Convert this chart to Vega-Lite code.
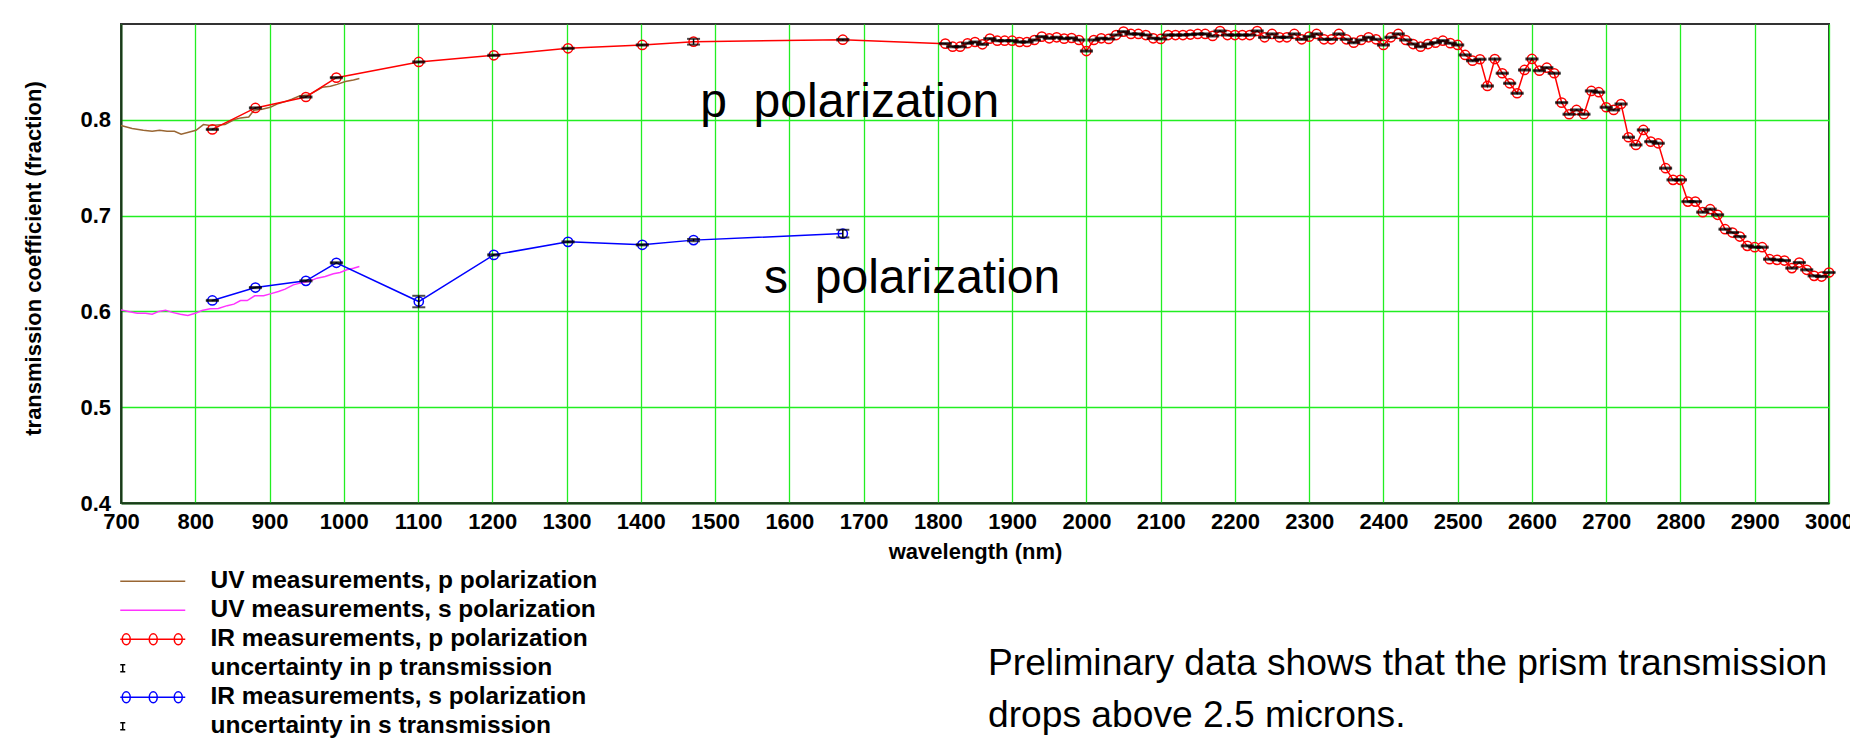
{
 "$schema": "https://vega.github.io/schema/vega-lite/v6.json",
 "width": 1708,
 "height": 479,
 "autosize": {"type": "none"},
 "padding": {"left": 121, "top": 24, "right": 21, "bottom": 237},
 "background": "white",
 "title": {
  "text": ["Preliminary data shows that the prism transmission", "drops above 2.5 microns."],
  "orient": "bottom", "anchor": "start", "frame": "group", "align": "left", "baseline": "top",
  "font": "Liberation Sans", "fontSize": 37.2, "fontWeight": "normal", "color": "black",
  "lineHeight": 52, "dx": 867, "offset": -92
 },
 "config": {
  "view": {"stroke": "#333333", "strokeWidth": 2},
  "font": "Liberation Sans",
  "axis": {
   "labelFont": "Liberation Sans", "labelFontWeight": "bold", "labelFontSize": 22, "labelColor": "black",
   "titleFont": "Liberation Sans", "titleFontWeight": "bold", "titleFontSize": 22, "titleColor": "black",
   "gridColor": "#22ee22", "gridOpacity": 1, "gridWidth": 1.3,
   "domainColor": "#1a3a1a", "domainWidth": 2, "ticks": false
  }
 },
 "datasets": {
  "uv_p": [
   {"wavelength":700,"value":0.794},{"wavelength":715,"value":0.791},{"wavelength":730,"value":0.789},{"wavelength":742,"value":0.788},{"wavelength":752,"value":0.789},{"wavelength":762,"value":0.788},{"wavelength":772,"value":0.788},{"wavelength":781,"value":0.785},{"wavelength":791,"value":0.787},{"wavelength":801,"value":0.789},{"wavelength":811,"value":0.795},{"wavelength":820,"value":0.794},{"wavelength":840,"value":0.795},{"wavelength":852,"value":0.800},{"wavelength":861,"value":0.802},{"wavelength":872,"value":0.803},{"wavelength":879,"value":0.810},{"wavelength":890,"value":0.811},{"wavelength":901,"value":0.813},{"wavelength":910,"value":0.8165},{"wavelength":921,"value":0.819},{"wavelength":930,"value":0.8215},{"wavelength":941,"value":0.825},{"wavelength":953,"value":0.826},{"wavelength":962,"value":0.830},{"wavelength":971,"value":0.834},{"wavelength":982,"value":0.835},{"wavelength":991,"value":0.837},{"wavelength":1002,"value":0.840},{"wavelength":1013,"value":0.8416},{"wavelength":1021,"value":0.843}
  ],
  "uv_s": [
   {"wavelength":700,"value":0.6016},{"wavelength":710,"value":0.600},{"wavelength":722,"value":0.598},{"wavelength":733,"value":0.598},{"wavelength":742,"value":0.597},{"wavelength":751,"value":0.600},{"wavelength":760,"value":0.6013},{"wavelength":769,"value":0.599},{"wavelength":780,"value":0.597},{"wavelength":790,"value":0.5957},{"wavelength":800,"value":0.598},{"wavelength":809,"value":0.601},{"wavelength":820,"value":0.6027},{"wavelength":831,"value":0.603},{"wavelength":843,"value":0.606},{"wavelength":852,"value":0.6076},{"wavelength":861,"value":0.6113},{"wavelength":870,"value":0.6113},{"wavelength":880,"value":0.6163},{"wavelength":892,"value":0.6163},{"wavelength":901,"value":0.6183},{"wavelength":912,"value":0.6208},{"wavelength":921,"value":0.6232},{"wavelength":932,"value":0.6277},{"wavelength":941,"value":0.6295},{"wavelength":953,"value":0.6312},{"wavelength":964,"value":0.6347},{"wavelength":975,"value":0.6364},{"wavelength":986,"value":0.6392},{"wavelength":995,"value":0.6406},{"wavelength":1004,"value":0.6434},{"wavelength":1013,"value":0.6451},{"wavelength":1021,"value":0.6468}
  ],
  "ir_p": [
   {"wavelength":823,"value":0.790,"uncertainty":0.0006},{"wavelength":881,"value":0.8124,"uncertainty":0.0006},{"wavelength":949,"value":0.8238,"uncertainty":0.0006},{"wavelength":990,"value":0.844,"uncertainty":0.0006},{"wavelength":1101,"value":0.8604,"uncertainty":0.0006},{"wavelength":1202,"value":0.8673,"uncertainty":0.0006},{"wavelength":1302,"value":0.8746,"uncertainty":0.0006},{"wavelength":1402,"value":0.8781,"uncertainty":0.0006},{"wavelength":1471,"value":0.8815,"uncertainty":0.003},{"wavelength":1672,"value":0.8836,"uncertainty":0.0008},
   {"wavelength":1810,"value":0.8795,"uncertainty":0.0006},{"wavelength":1820,"value":0.8763,"uncertainty":0.0006},{"wavelength":1830,"value":0.8763,"uncertainty":0.0006},{"wavelength":1840,"value":0.8799,"uncertainty":0.0006},{"wavelength":1850,"value":0.8812,"uncertainty":0.0006},{"wavelength":1860,"value":0.8788,"uncertainty":0.0006},{"wavelength":1870,"value":0.8847,"uncertainty":0.0006},{"wavelength":1880,"value":0.8826,"uncertainty":0.0006},{"wavelength":1890,"value":0.8826,"uncertainty":0.0006},{"wavelength":1900,"value":0.8826,"uncertainty":0.0006},
   {"wavelength":1910,"value":0.8812,"uncertainty":0.0006},{"wavelength":1920,"value":0.8812,"uncertainty":0.0006},{"wavelength":1930,"value":0.8833,"uncertainty":0.0006},{"wavelength":1940,"value":0.8868,"uncertainty":0.0006},{"wavelength":1950,"value":0.8851,"uncertainty":0.0006},{"wavelength":1960,"value":0.8861,"uncertainty":0.0006},{"wavelength":1970,"value":0.8847,"uncertainty":0.0006},{"wavelength":1980,"value":0.8854,"uncertainty":0.0006},{"wavelength":1990,"value":0.8833,"uncertainty":0.0006},{"wavelength":2000,"value":0.8718,"uncertainty":0.0006},
   {"wavelength":2010,"value":0.8833,"uncertainty":0.0006},{"wavelength":2020,"value":0.8851,"uncertainty":0.0006},{"wavelength":2030,"value":0.8844,"uncertainty":0.0006},{"wavelength":2040,"value":0.8885,"uncertainty":0.0006},{"wavelength":2050,"value":0.8920,"uncertainty":0.0006},{"wavelength":2060,"value":0.8896,"uncertainty":0.0006},{"wavelength":2070,"value":0.8896,"uncertainty":0.0006},{"wavelength":2080,"value":0.8885,"uncertainty":0.0006},{"wavelength":2090,"value":0.8851,"uncertainty":0.0006},{"wavelength":2100,"value":0.8844,"uncertainty":0.0006},
   {"wavelength":2110,"value":0.8885,"uncertainty":0.0006},{"wavelength":2120,"value":0.8885,"uncertainty":0.0006},{"wavelength":2130,"value":0.8885,"uncertainty":0.0006},{"wavelength":2140,"value":0.8890,"uncertainty":0.0006},{"wavelength":2150,"value":0.8896,"uncertainty":0.0006},{"wavelength":2160,"value":0.8896,"uncertainty":0.0006},{"wavelength":2170,"value":0.8875,"uncertainty":0.0006},{"wavelength":2180,"value":0.8927,"uncertainty":0.0006},{"wavelength":2190,"value":0.8885,"uncertainty":0.0006},{"wavelength":2200,"value":0.8885,"uncertainty":0.0006},
   {"wavelength":2210,"value":0.8885,"uncertainty":0.0006},{"wavelength":2220,"value":0.8885,"uncertainty":0.0006},{"wavelength":2230,"value":0.8927,"uncertainty":0.0006},{"wavelength":2240,"value":0.8861,"uncertainty":0.0006},{"wavelength":2250,"value":0.8896,"uncertainty":0.0006},{"wavelength":2260,"value":0.8861,"uncertainty":0.0006},{"wavelength":2270,"value":0.8861,"uncertainty":0.0006},{"wavelength":2280,"value":0.8896,"uncertainty":0.0006},{"wavelength":2290,"value":0.8840,"uncertainty":0.0006},{"wavelength":2300,"value":0.8868,"uncertainty":0.0006},
   {"wavelength":2310,"value":0.8896,"uncertainty":0.0006},{"wavelength":2320,"value":0.8840,"uncertainty":0.0006},{"wavelength":2330,"value":0.8840,"uncertainty":0.0006},{"wavelength":2340,"value":0.8896,"uncertainty":0.0006},{"wavelength":2350,"value":0.8840,"uncertainty":0.0006},{"wavelength":2360,"value":0.8805,"uncertainty":0.0006},{"wavelength":2370,"value":0.8833,"uncertainty":0.0006},{"wavelength":2380,"value":0.8861,"uncertainty":0.0006},{"wavelength":2390,"value":0.8840,"uncertainty":0.0006},{"wavelength":2400,"value":0.8781,"uncertainty":0.0006},
   {"wavelength":2410,"value":0.8861,"uncertainty":0.0006},{"wavelength":2420,"value":0.8896,"uncertainty":0.0006},{"wavelength":2430,"value":0.8833,"uncertainty":0.0006},{"wavelength":2440,"value":0.8791,"uncertainty":0.0006},{"wavelength":2450,"value":0.8763,"uncertainty":0.0006},{"wavelength":2460,"value":0.8791,"uncertainty":0.0006},{"wavelength":2470,"value":0.8805,"uncertainty":0.0006},{"wavelength":2480,"value":0.8826,"uncertainty":0.0006},{"wavelength":2490,"value":0.8800,"uncertainty":0.0006},{"wavelength":2500,"value":0.8781,"uncertainty":0.0006},
   {"wavelength":2510,"value":0.8677,"uncertainty":0.0006},{"wavelength":2520,"value":0.8617,"uncertainty":0.0006},{"wavelength":2530,"value":0.8632,"uncertainty":0.0006},{"wavelength":2540,"value":0.8353,"uncertainty":0.0006},{"wavelength":2550,"value":0.8634,"uncertainty":0.0006},{"wavelength":2560,"value":0.8486,"uncertainty":0.0006},{"wavelength":2570,"value":0.8381,"uncertainty":0.0006},{"wavelength":2580,"value":0.8277,"uncertainty":0.0006},{"wavelength":2590,"value":0.8520,"uncertainty":0.0006},{"wavelength":2600,"value":0.8635,"uncertainty":0.0006},
   {"wavelength":2610,"value":0.8513,"uncertainty":0.0006},{"wavelength":2620,"value":0.8544,"uncertainty":0.0006},{"wavelength":2630,"value":0.8486,"uncertainty":0.0006},{"wavelength":2640,"value":0.8179,"uncertainty":0.0006},{"wavelength":2650,"value":0.8058,"uncertainty":0.0006},{"wavelength":2660,"value":0.8103,"uncertainty":0.0006},{"wavelength":2670,"value":0.8058,"uncertainty":0.0006},{"wavelength":2680,"value":0.8301,"uncertainty":0.0006},{"wavelength":2690,"value":0.8288,"uncertainty":0.0006},{"wavelength":2700,"value":0.8131,"uncertainty":0.0006},
   {"wavelength":2710,"value":0.8103,"uncertainty":0.0006},{"wavelength":2720,"value":0.8165,"uncertainty":0.0006},{"wavelength":2730,"value":0.7818,"uncertainty":0.0006},{"wavelength":2740,"value":0.7738,"uncertainty":0.0006},{"wavelength":2750,"value":0.7894,"uncertainty":0.0006},{"wavelength":2760,"value":0.7772,"uncertainty":0.0006},{"wavelength":2770,"value":0.7755,"uncertainty":0.0006},{"wavelength":2780,"value":0.7495,"uncertainty":0.0006},{"wavelength":2790,"value":0.7373,"uncertainty":0.0006},{"wavelength":2800,"value":0.7373,"uncertainty":0.0006},
   {"wavelength":2810,"value":0.7146,"uncertainty":0.0006},{"wavelength":2820,"value":0.7146,"uncertainty":0.0006},{"wavelength":2830,"value":0.7036,"uncertainty":0.0006},{"wavelength":2840,"value":0.7067,"uncertainty":0.0006},{"wavelength":2850,"value":0.7008,"uncertainty":0.0006},{"wavelength":2860,"value":0.6858,"uncertainty":0.0006},{"wavelength":2870,"value":0.6823,"uncertainty":0.0006},{"wavelength":2880,"value":0.6781,"uncertainty":0.0006},{"wavelength":2890,"value":0.6684,"uncertainty":0.0006},{"wavelength":2900,"value":0.6670,"uncertainty":0.0006},
   {"wavelength":2910,"value":0.6670,"uncertainty":0.0006},{"wavelength":2920,"value":0.6545,"uncertainty":0.0006},{"wavelength":2930,"value":0.6538,"uncertainty":0.0006},{"wavelength":2940,"value":0.6531,"uncertainty":0.0006},{"wavelength":2950,"value":0.6452,"uncertainty":0.0006},{"wavelength":2960,"value":0.6510,"uncertainty":0.0006},{"wavelength":2970,"value":0.6434,"uncertainty":0.0006},{"wavelength":2980,"value":0.6371,"uncertainty":0.0006},{"wavelength":2990,"value":0.6364,"uncertainty":0.0006},{"wavelength":3000,"value":0.6406,"uncertainty":0.0006}
  ],
  "ir_s": [
   {"wavelength":823,"value":0.6114,"uncertainty":0.0006},{"wavelength":881,"value":0.6249,"uncertainty":0.0006},{"wavelength":949,"value":0.6319,"uncertainty":0.0006},{"wavelength":990,"value":0.6507,"uncertainty":0.0006},{"wavelength":1101,"value":0.6103,"uncertainty":0.006},{"wavelength":1202,"value":0.659,"uncertainty":0.0006},{"wavelength":1302,"value":0.6726,"uncertainty":0.0006},{"wavelength":1402,"value":0.6695,"uncertainty":0.0006},{"wavelength":1471,"value":0.6744,"uncertainty":0.0012},{"wavelength":1672,"value":0.6812,"uncertainty":0.004}
  ],
  "labels": [
   {"wavelength":1480,"value":0.803,"label":"p\u00a0\u00a0polarization"},
   {"wavelength":1566,"value":0.6195,"label":"s\u00a0\u00a0polarization"}
  ]
 },
 "encoding": {
  "x": {"field": "wavelength", "type": "quantitative",
   "scale": {"domain": [700, 3000], "nice": false, "zero": false},
   "axis": {"title": "wavelength (nm)", "values": [700,800,900,1000,1100,1200,1300,1400,1500,1600,1700,1800,1900,2000,2100,2200,2300,2400,2500,2600,2700,2800,2900,3000],
    "format": "d", "grid": true, "labelFlush": false, "labelOverlap": false, "labelBound": false, "labelPadding": 8.6, "labelDx": 5, "titlePadding": 9}},
  "y": {"field": "value", "type": "quantitative",
   "scale": {"domain": [0.4, 0.9], "nice": false, "zero": false},
   "axis": {"title": "transmission coefficient (fraction)", "values": [0.4,0.5,0.6,0.7,0.8], "format": ".1f", "grid": true,
    "labelPadding": 10.5, "titleX": -88, "titleY": 234, "titleBaseline": "middle", "titleAngle": -90}}
 },
 "layer": [
  {"data": {"name": "uv_p"}, "mark": {"type": "line", "strokeWidth": 1.5},
   "encoding": {"color": {"datum": "UV measurements, p polarization", "type": "nominal",
    "scale": {"domain": ["UV measurements, p polarization","UV measurements, s polarization","IR measurements, p polarization","uncertainty in p transmission","IR measurements, s polarization","uncertainty in s transmission"],
     "range": ["#996633","#ff33ff","#ff0000","#000000","#0000ff","#000000"]},
    "legend": {"orient": "none", "legendX": -1, "legendY": 545, "title": null, "direction": "vertical",
     "symbolSize": 100, "symbolStrokeWidth": 1.5, "symbolOffset": 0, "symbolFillColor": "transparent", "padding": 0, "rowPadding": 4,
     "labelFont": "Liberation Sans", "labelFontWeight": "bold", "labelFontSize": 24.5, "labelColor": "black", "labelOffset": 66, "labelLimit": 900,
     "encode": {"symbols": {"update": {
      "shape": {"signal": "datum.index == 3 || datum.index == 5 ? 'M-2.4,-0.7H-1.4M-1.9,-0.7V0.7M-2.4,0.7H-1.4' : (datum.index == 2 || datum.index == 4 ? 'M-2.4,0H10.6M-0.4,0A0.8,1.1,0,1,0,-2,0A0.8,1.1,0,1,0,-0.4,0M5,0A0.8,1.1,0,1,0,3.4,0A0.8,1.1,0,1,0,5,0M10,0A0.8,1.1,0,1,0,8.4,0A0.8,1.1,0,1,0,10,0' : 'M-2.4,0H10.6')"},
      "fill": {"value": "transparent"},
      "fillOpacity": {"value": 0},
      "stroke": {"scale": "color", "field": "value"},
      "strokeWidth": {"value": 1.5},
      "opacity": {"value": 1}
     }}}}}}},
  {"data": {"name": "uv_s"}, "mark": {"type": "line", "strokeWidth": 1.5},
   "encoding": {"color": {"datum": "UV measurements, s polarization", "type": "nominal"}}},
  {"data": {"name": "ir_p"}, "mark": {"type": "line", "strokeWidth": 1.5},
   "encoding": {"color": {"datum": "IR measurements, p polarization", "type": "nominal"}}},
  {"data": {"name": "ir_p"}, "mark": {"type": "point", "shape": "circle", "filled": false, "size": 85, "strokeWidth": 1.5, "opacity": 1},
   "encoding": {"color": {"datum": "IR measurements, p polarization", "type": "nominal"}}},
  {"data": {"name": "ir_p"}, "mark": {"type": "errorbar", "ticks": {"size": 13, "thickness": 2}, "thickness": 1.5},
   "encoding": {"yError": {"field": "uncertainty"}, "color": {"datum": "uncertainty in p transmission", "type": "nominal"}}},
  {"data": {"name": "ir_s"}, "mark": {"type": "line", "strokeWidth": 1.5},
   "encoding": {"color": {"datum": "IR measurements, s polarization", "type": "nominal"}}},
  {"data": {"name": "ir_s"}, "mark": {"type": "point", "shape": "circle", "filled": false, "size": 85, "strokeWidth": 1.5, "opacity": 1},
   "encoding": {"color": {"datum": "IR measurements, s polarization", "type": "nominal"}}},
  {"data": {"name": "ir_s"}, "mark": {"type": "errorbar", "ticks": {"size": 13, "thickness": 2}, "thickness": 1.5},
   "encoding": {"yError": {"field": "uncertainty"}, "color": {"datum": "uncertainty in s transmission", "type": "nominal"}}},
  {"data": {"name": "labels"}, "mark": {"type": "text", "font": "Liberation Sans", "fontSize": 48, "fontWeight": "normal", "align": "left", "baseline": "alphabetic", "color": "black"},
   "encoding": {"text": {"field": "label", "type": "nominal"}}}
 ]
}
